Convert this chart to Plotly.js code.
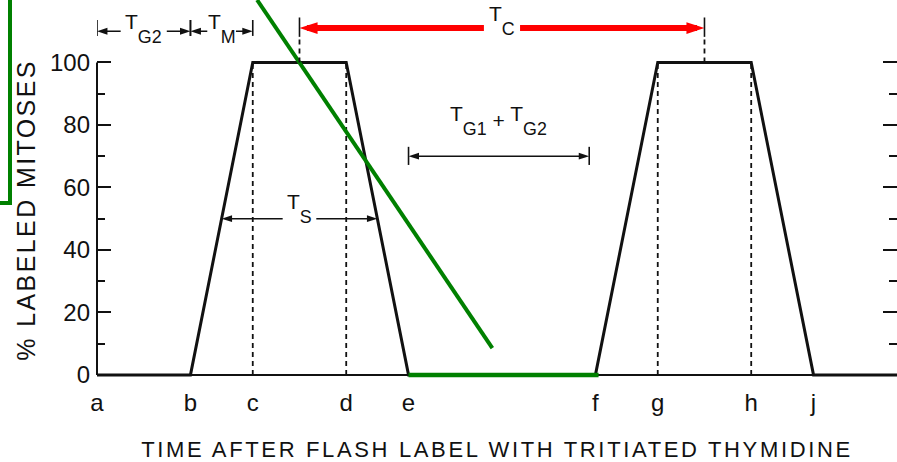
<!DOCTYPE html>
<html>
<head>
<meta charset="utf-8">
<script src="https://cdn.plot.ly/plotly-3.0.1.min.js"></script>
<style>
  html, body { margin: 0; padding: 0; background: #fff; }
  #chart { width: 897px; height: 462px; }
</style>
</head>
<body>
<div id="chart"></div>
<script>
// Labeled-mitoses curve after a flash label (time in arbitrary units)
const timePoints = [0, 1.5, 2.5, 4, 5, 8, 9, 10.5, 11.5, 12.84];
const labeledPct = [0, 0, 100, 100, 0, 0, 100, 100, 0, 0];

// Lettered time points along the x axis
const phaseTicks = [0, 1.5, 2.5, 4, 5, 8, 9, 10.5, 11.5];
const phaseLetters = ['a', 'b', 'c', 'd', 'e', 'f', 'g', 'h', 'j'];

// Percent axis ticks
const pctTicks = [0, 20, 40, 60, 80, 100];
const pctTickText = ['0', '20', '40', '60', '80', '100'];
const pctMinorTicks = [10, 30, 50, 70, 90];

// Plateau edges marked with dotted verticals
const plateauEdges = [2.5, 4, 9, 10.5];

// Phase-duration intervals: T, subscript, start, end, level
const intervalMain = ['T', 'T', 'T', 'T', 'T'];
const intervalSub = ['G2', 'M', 'C', 'S', 'G1'];
const intervalStart = [0, 1.5, 3.25, 2.0, 5];
const intervalEnd = [1.5, 2.5, 9.75, 4.5, 7.9];
const intervalLevel = [110, 110, 111, 50, 70];

// Green highlight strokes
const slashX = [2.57, 6.345];
const slashY = [120, 8.6];
const baseMarkX = [5, 8.05];
const baseMarkY = [0, 0];

const INK = '#111';
const FONT = 'Liberation Sans, Arial, Helvetica, sans-serif';

// drawing style for each interval
const intervalStyle = [
  { color: INK, width: 1.5, head: 11, back: 0.07, gap: 0.37, bars: [108.5, 113.6], labelY: 110.9 },
  { color: INK, width: 1.5, head: 11, back: 0.07, gap: 0.23, bars: [108.5, 113.6], labelY: 110.9 },
  { color: '#ff0000', width: 6, head: 19, back: 0.12, gap: 0.29, bars: [108.2, 114.4], labelY: 113.3 },
  { color: INK, width: 1.5, head: 11, back: 0.07, gap: 0.27, bars: null, labelY: 53.1 },
  { color: INK, width: 1.5, head: 11, back: 0.07, gap: null, bars: [67.2, 73.0], labelY: 81.5 }
];

function subLabel(main, sub) {
  return main + "<span style='font-size:85%;baseline-shift:-14px'>" + sub + '</span>';
}

const traces = [
  {
    x: timePoints, y: labeledPct, type: 'scatter', mode: 'lines',
    line: { color: INK, width: 3 }, hoverinfo: 'skip'
  }
];

const shapes = [];
const annotations = [];

// y axis spine, 0 to 100 only
shapes.push({
  type: 'line', xref: 'paper', yref: 'y', x0: 0, x1: 0, y0: 0, y1: pctTicks[pctTicks.length - 1],
  line: { color: INK, width: 2 }
});

// dotted verticals at plateau edges
plateauEdges.forEach(function (t) {
  shapes.push({
    type: 'line', xref: 'x', yref: 'y', x0: t, x1: t, y0: 0, y1: 100,
    line: { color: INK, width: 1.8, dash: '5px,4px' }, layer: 'below'
  });
});

// dotted risers from the plateau midpoints up to the cycle-time bar
[intervalStart[2], intervalEnd[2]].forEach(function (t) {
  shapes.push({
    type: 'line', xref: 'x', yref: 'y', x0: t, x1: t, y0: 100, y1: 108,
    line: { color: INK, width: 1.8, dash: '5px,4px' }
  });
});

intervalMain.forEach(function (main, i) {
  const s = intervalStart[i], e = intervalEnd[i], lvl = intervalLevel[i];
  const st = intervalStyle[i];
  const mid = (s + e) / 2;
  let lx, ly;
  if (st.gap !== null) {
    lx = [mid - st.gap, s + st.back, null, mid + st.gap, e - st.back];
    ly = [lvl, lvl, null, lvl, lvl];
  } else {
    lx = [s + st.back, e - st.back];
    ly = [lvl, lvl];
  }
  // shaft
  traces.push({
    x: lx, y: ly, type: 'scatter', mode: 'lines', connectgaps: false,
    line: { color: st.color, width: st.width }, hoverinfo: 'skip', cliponaxis: false
  });
  // arrow heads at both ends
  traces.push({
    x: [s, e], y: [lvl, lvl], type: 'scatter', mode: 'markers', cliponaxis: false,
    marker: { symbol: 'arrow', size: st.head, color: st.color, angle: [270, 90], line: { width: 0 } },
    hoverinfo: 'skip'
  });
  if (st.bars) {
    [s, e].forEach(function (t) {
      shapes.push({
        type: 'line', xref: 'x', yref: 'y', x0: t, x1: t, y0: st.bars[0], y1: st.bars[1],
        line: { color: INK, width: 1.6 }
      });
    });
  }
  let label = subLabel(main, intervalSub[i]);
  if (i === 4) {
    label = label + " <span style='baseline-shift:-7px'>+</span> " + subLabel('T', 'G2');
  }
  annotations.push({
    xref: 'x', yref: 'y', x: mid, y: st.labelY, text: label, showarrow: false,
    xanchor: 'center', yanchor: 'middle',
    font: { family: FONT, size: 21, color: INK }
  });
});

// green highlight strokes drawn on top
traces.push({
  x: slashX, y: slashY, type: 'scatter', mode: 'lines',
  line: { color: '#008000', width: 4 }, hoverinfo: 'skip'
});
traces.push({
  x: baseMarkX, y: baseMarkY, type: 'scatter', mode: 'lines',
  line: { color: '#008000', width: 4.5 }, hoverinfo: 'skip'
});

// green bracket in the left margin
shapes.push({
  type: 'path', xref: 'paper', yref: 'y',
  path: 'M -0.10875,121 L -0.10875,55 L -0.13,55',
  line: { color: '#008000', width: 4 }
});

// y axis title
annotations.push({
  xref: 'paper', yref: 'y', x: -0.089, y: 52.8, textangle: -90,
  text: "<span style='letter-spacing:2.4px'>% LABELED MITOSES</span>",
  showarrow: false, xanchor: 'center', yanchor: 'middle',
  font: { family: FONT, size: 25, color: INK }
});

const layout = {
  width: 897, height: 462,
  margin: { l: 97, r: 0, t: 0, b: 84, pad: 0 },
  paper_bgcolor: '#fff', plot_bgcolor: '#fff',
  showlegend: false,
  xaxis: {
    range: [0, 12.84], showgrid: false, zeroline: false, showline: false,
    ticks: '', tickvals: phaseTicks, ticktext: phaseLetters,
    tickfont: { family: FONT, size: 24, color: INK },
    ticklabelstandoff: 8,
    title: {
      text: "<span style='letter-spacing:2.65px'>TIME AFTER FLASH LABEL WITH TRITIATED THYMIDINE</span>",
      font: { family: FONT, size: 22, color: INK },
      standoff: 28
    }
  },
  yaxis: {
    range: [-1, 120], showgrid: false, showline: false,
    zeroline: true, zerolinecolor: INK, zerolinewidth: 1.5,
    ticks: 'inside', ticklen: 14, tickwidth: 2, tickcolor: INK,
    tickvals: pctTicks, ticktext: pctTickText, mirror: 'ticks',
    minor: { tickvals: pctMinorTicks, ticks: 'inside', ticklen: 8, tickwidth: 2, tickcolor: INK },
    tickfont: { family: FONT, size: 24, color: INK },
    ticklabelstandoff: 6
  },
  shapes: shapes,
  annotations: annotations
};

Plotly.newPlot('chart', traces, layout, { staticPlot: true, displayModeBar: false });
</script>
</body>
</html>
